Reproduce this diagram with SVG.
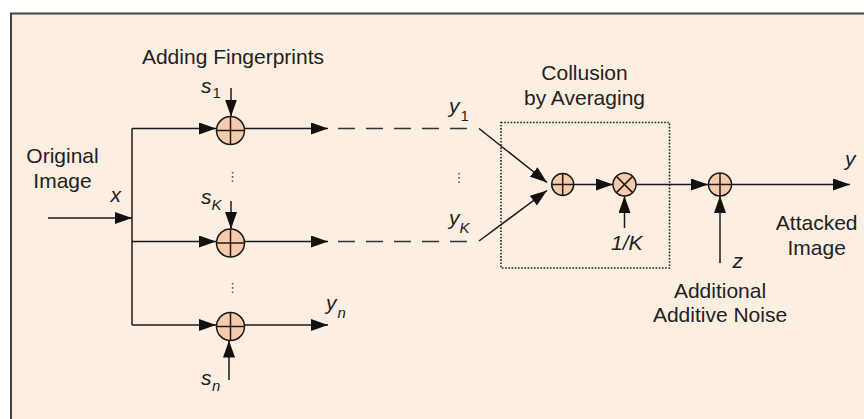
<svg xmlns="http://www.w3.org/2000/svg" width="864" height="419" viewBox="0 0 864 419">
<defs>
<marker id="ah" markerUnits="userSpaceOnUse" markerWidth="18" markerHeight="12" refX="17" refY="6" orient="auto">
<path d="M0,0 L17,6 L0,12 z" fill="#111"/>
</marker>
</defs>
<style>
.ln{stroke:#1a1a1a;stroke-width:1.5;fill:none}
.ar{stroke:#1a1a1a;stroke-width:1.5;fill:none;marker-end:url(#ah)}
.dash{stroke:#333;stroke-width:1.5;fill:none;stroke-dasharray:17 11}
.node{fill:#F8CAAC;stroke:#1a1a1a;stroke-width:1.5}
.t{font-family:"Liberation Sans",Arial,sans-serif;font-size:21px;fill:#222;text-anchor:middle}
.v{font-family:"Liberation Sans",Arial,sans-serif;font-size:21px;font-style:italic;fill:#222}
.sub{font-family:"Liberation Sans",Arial,sans-serif;font-size:15px;fill:#222}
.subi{font-family:"Liberation Sans",Arial,sans-serif;font-size:15px;font-style:italic;fill:#222}
.dots{font-family:"DejaVu Sans",sans-serif;font-size:13px;fill:#444;text-anchor:middle}
</style>
<rect x="0" y="0" width="864" height="419" fill="#ffffff"/>
<rect x="11" y="13.5" width="870" height="420" fill="#FDEEE2" stroke="#444" stroke-width="2"/>

<g id="connectors">
<line class="ar" x1="48" y1="218" x2="132" y2="218"/>
<line class="ln" x1="132" y1="128.5" x2="132" y2="325"/>
<line class="ar" x1="132" y1="128.5" x2="216" y2="128.5"/>
<line class="ar" x1="132" y1="241.5" x2="216" y2="241.5"/>
<line class="ar" x1="132" y1="325" x2="216" y2="325"/>
<line class="ar" x1="231" y1="88" x2="231" y2="116.5"/>
<line class="ar" x1="231" y1="201" x2="231" y2="229"/>
<line class="ar" x1="229" y1="380" x2="229" y2="340.5"/>
<line class="ar" x1="244" y1="128.5" x2="328" y2="128.5"/>
<line class="ar" x1="244" y1="241.5" x2="328" y2="241.5"/>
<line class="ar" x1="244" y1="325" x2="328" y2="325"/>
<line class="dash" x1="338" y1="128.5" x2="467" y2="128.5"/>
<line class="dash" x1="338" y1="241.5" x2="467" y2="241.5"/>
<line class="ar" x1="479" y1="128.5" x2="547" y2="182.5"/>
<line class="ar" x1="479" y1="241" x2="547" y2="190.5"/>
<line class="ar" x1="574" y1="184.5" x2="613" y2="184.5"/>
<line class="ar" x1="624.5" y1="228" x2="624.5" y2="196"/>
<line class="ar" x1="636" y1="184.5" x2="708" y2="184.5"/>
<line class="ar" x1="720" y1="263" x2="720" y2="196"/>
<line class="ar" x1="732" y1="184.5" x2="850" y2="184.5"/>
</g>

<g id="collusion-box">
<rect x="501" y="122.5" width="168.5" height="145.5" fill="none" stroke="#222" stroke-width="1.6" stroke-dasharray="1.6 1.6"/>
</g>

<g id="add1">
<circle class="node" cx="230.5" cy="130.5" r="14"/>
<line class="ln" x1="216.5" y1="130.5" x2="244.5" y2="130.5"/>
<line class="ln" x1="230.5" y1="116.5" x2="230.5" y2="144.5"/>
</g>
<g id="addK">
<circle class="node" cx="230.5" cy="243" r="14"/>
<line class="ln" x1="216.5" y1="243" x2="244.5" y2="243"/>
<line class="ln" x1="230.5" y1="229" x2="230.5" y2="257"/>
</g>
<g id="addn">
<circle class="node" cx="230.5" cy="326.5" r="14"/>
<line class="ln" x1="216.5" y1="326.5" x2="244.5" y2="326.5"/>
<line class="ln" x1="230.5" y1="312.5" x2="230.5" y2="340.5"/>
</g>
<g id="sum">
<circle class="node" cx="562.7" cy="184.5" r="11"/>
<line class="ln" x1="551.7" y1="184.5" x2="573.7" y2="184.5"/>
<line class="ln" x1="562.7" y1="173.5" x2="562.7" y2="195.5"/>
</g>
<g id="mult">
<circle class="node" cx="624.5" cy="184.5" r="11.5"/>
<line class="ln" x1="616.4" y1="176.4" x2="632.6" y2="192.6"/>
<line class="ln" x1="632.6" y1="176.4" x2="616.4" y2="192.6"/>
</g>
<g id="noise">
<circle class="node" cx="720" cy="184.5" r="11.5"/>
<line class="ln" x1="708.5" y1="184.5" x2="731.5" y2="184.5"/>
<line class="ln" x1="720" y1="173" x2="720" y2="196"/>
</g>

<g id="labels">
<text class="t" x="233" y="64">Adding Fingerprints</text>
<text class="t" x="62.5" y="163">Original</text>
<text class="t" x="62.5" y="188">Image</text>
<text class="t" x="584.5" y="80">Collusion</text>
<text class="t" x="584.5" y="105">by Averaging</text>
<text class="t" x="816.7" y="230">Attacked</text>
<text class="t" x="816.7" y="254.5">Image</text>
<text class="t" x="720" y="297.5">Additional</text>
<text class="t" x="720" y="321.5">Additive Noise</text>

<text class="v" x="110.5" y="201.5">x</text>
<text class="v" x="201" y="92.5">s</text><text class="sub" x="212.5" y="97.5">1</text>
<text class="v" x="201" y="204">s</text><text class="subi" x="211.5" y="210">K</text>
<text class="v" x="201" y="385">s</text><text class="subi" x="212" y="390.5">n</text>
<text class="v" x="449" y="113">y</text><text class="sub" x="460.5" y="120.5">1</text>
<text class="v" x="449" y="225">y</text><text class="subi" x="459.5" y="233">K</text>
<text class="v" x="326" y="310">y</text><text class="subi" x="337.5" y="317.5">n</text>
<text class="v" x="611" y="250">1/K</text>
<text class="v" x="732.5" y="268">z</text>
<text class="v" x="845" y="166">y</text>

<text class="dots" x="232.5" y="181">⋮</text>
<text class="dots" x="232.5" y="292">⋮</text>
<text class="dots" x="459" y="182">⋮</text>
</g>
</svg>
